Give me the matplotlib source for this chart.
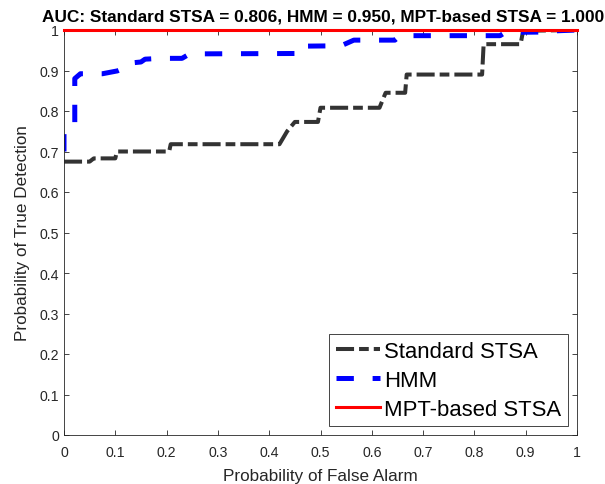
import matplotlib
matplotlib.use("Agg")
import matplotlib.pyplot as plt

plt.rcParams['font.family'] = ['Liberation Sans', 'DejaVu Sans']
plt.rcParams['lines.scale_dashes'] = False

# Standard STSA ROC
std_fpr = [0.0, 0.05, 0.058, 0.10, 0.103, 0.205, 0.208, 0.42, 0.435, 0.45, 0.495,
           0.50, 0.615, 0.622, 0.627, 0.665, 0.668, 0.815, 0.818, 0.89, 0.895, 1.0]
std_tpr = [0.675, 0.675, 0.683, 0.683, 0.700, 0.700, 0.718, 0.718, 0.750, 0.773, 0.773,
           0.808, 0.808, 0.830, 0.845, 0.845, 0.890, 0.890, 0.965, 0.965, 0.998, 1.0]

# HMM ROC
hmm_fpr = [0.0, 0.0, 0.021, 0.021, 0.032, 0.075, 0.104, 0.115, 0.125, 0.150, 0.158,
           0.19, 0.23, 0.245, 0.45, 0.455, 0.54, 0.565, 0.645, 0.655, 0.85, 0.86,
           0.94, 0.96, 1.0]
hmm_tpr = [0.700, 0.752, 0.765, 0.880, 0.892, 0.892, 0.899, 0.905, 0.918, 0.921, 0.928,
           0.930, 0.930, 0.941, 0.942, 0.960, 0.961, 0.975, 0.975, 0.986, 0.986, 0.994,
           0.995, 0.998, 1.0]

# MPT-based STSA ROC
mpt_fpr = [0.0, 1.0]
mpt_tpr = [1.0, 1.0]

labels = ['Standard STSA', 'HMM', 'MPT-based STSA']
auc_vals = [0.806, 0.950, 1.000]
ticks = [0, 0.1, 0.2, 0.3, 0.4, 0.5, 0.6, 0.7, 0.8, 0.9, 1]
tick_labels = ['0', '0.1', '0.2', '0.3', '0.4', '0.5', '0.6', '0.7', '0.8', '0.9', '1']

fig = plt.figure(figsize=(6.05, 4.85), dpi=100)
ax = fig.add_axes([64/605, 1-436/485, 513/605, 405/485])

l1, = ax.plot(std_fpr, std_tpr, color='#333333', lw=2.9,
              dashes=[13, 3.6, 7, 3.6], label=labels[0], solid_capstyle='butt')
l2, = ax.plot(hmm_fpr, hmm_tpr, color='#0000ff', lw=3.6,
              dashes=[12.5, 13.5], label=labels[1])
l3, = ax.plot(mpt_fpr, mpt_tpr, color='#ff0000', lw=2.2, label=labels[2],
              clip_on=False, zorder=5)

ax.set_xlim(0, 1)
ax.set_ylim(0, 1)
ax.set_xticks(ticks)
ax.set_xticklabels(tick_labels)
ax.set_yticks(ticks)
ax.set_yticklabels(tick_labels)
ax.tick_params(direction='in', length=3.6, width=0.6, top=True, right=True,
               labelsize=10.2, colors='#262626')
ax.tick_params(axis='x', pad=7.5)
ax.tick_params(axis='y', pad=3.5)
for s in ax.spines.values():
    s.set_color('#262626')
    s.set_linewidth(0.6)

ax.set_xlabel('Probability of False Alarm', fontsize=12.3, color='#262626', labelpad=6)
ax.set_ylabel('Probability of True Detection', fontsize=12.3, color='#262626', labelpad=7)
ax.set_title('AUC: Standard STSA = %.3f, HMM = %.3f, MPT-based STSA = %.3f' % tuple(auc_vals),
             fontsize=12.4, fontweight='bold', pad=7, x=0.505)

leg = ax.legend(loc='lower right', fontsize=15.9, frameon=True, fancybox=False,
                edgecolor='#262626', framealpha=1, borderaxespad=0.4,
                handlelength=2.0, handletextpad=0.2, labelspacing=0.35,
                borderpad=0.3)
leg.get_frame().set_linewidth(0.6)

fig.savefig('out.png', dpi=100)
